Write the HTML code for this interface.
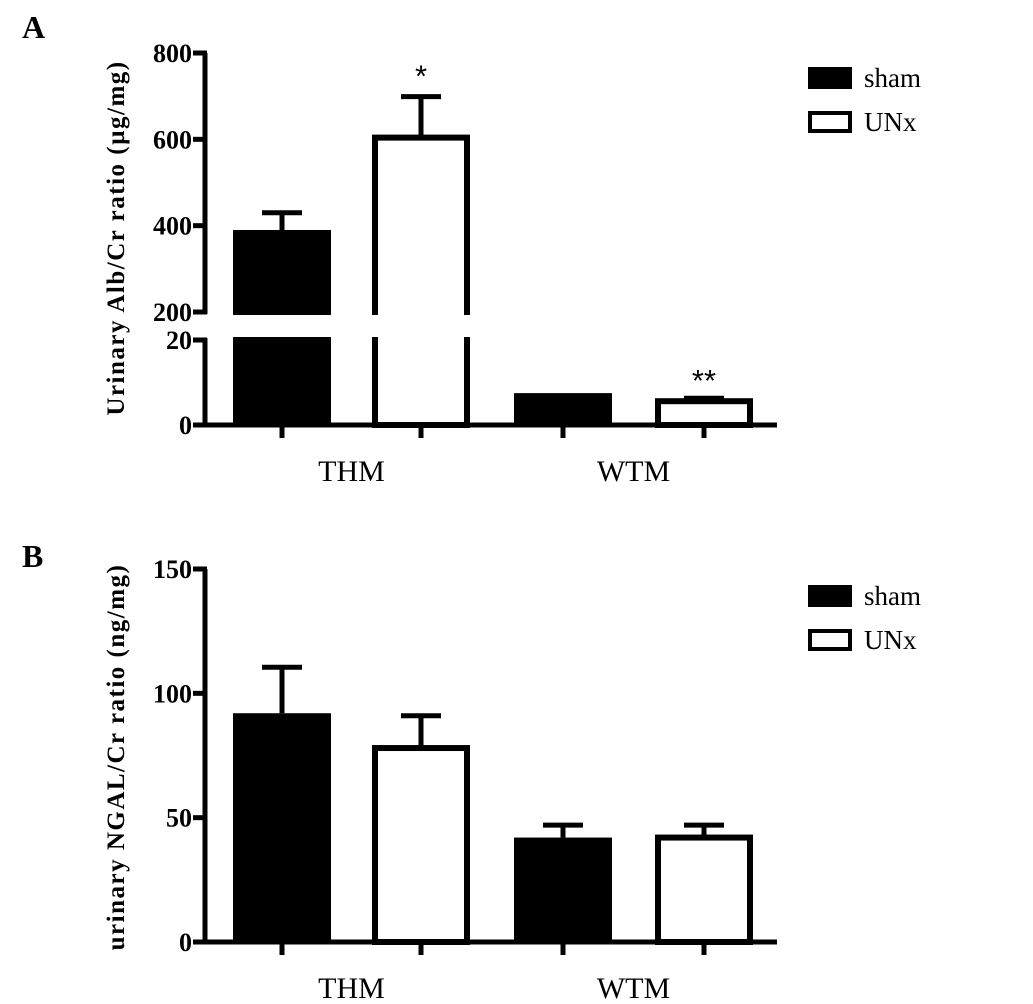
<!DOCTYPE html>
<html><head><meta charset="utf-8"><style>
body{margin:0;background:#fff;}
svg{display:block;font-family:"Liberation Serif",serif;}
</style></head><body>
<svg id="c" width="1033" height="1004" viewBox="0 0 1033 1004"></svg>
<script>
const groups=["THM","WTM"];
const seriesNames=["sham","UNx"];
const alb=[[390,604],[7.5,5.6]];
const albErr=[[430,699],[7.5,6.3]];
const albStars=[["","*"],["","**"]];
const ngal=[[92,78],[42,42]];
const ngalErr=[[110.5,91],[47,47]];
const albUpperTicks=[200,400,600,800];
const albLowerTicks=[0,20];
const ngalTicks=[0,50,100,150];

const svg=document.getElementById('c');
const NS="http://www.w3.org/2000/svg";
function mk(t,a,p){const e=document.createElementNS(NS,t);for(const k in a)e.setAttribute(k,a[k]);(p||svg).appendChild(e);return e;}
const barW=98, centers=[[282,421],[563,704]];

function yA(v){ if(v<=20) return 425-(v/20)*85; return 312-((v-200)/600)*259; }
function yB(v){ return 942-(v/150)*373; }

function panel(p){
  const g=mk('g',{});
  
  
  groups.forEach((gr,gi)=>{
    seriesNames.forEach((s,si)=>{
      const v=p.vals[gi][si], e=p.err[gi][si], cx=centers[gi][si];
      const yt=p.y(v), y0=p.y(0);
      const b=mk('rect',{x:cx-barW/2+(si?3:0),y:yt,width:barW-(si?6:0),height:y0-yt,fill:si?'#fff':'#000',stroke:'#000','stroke-width':si?6:0},g);
      
      
      const ye=p.y(e);
      if(e>v){
        const el=mk('path',{d:`M${cx} ${yt} V${ye} M${cx-20} ${ye} H${cx+20}`,stroke:'#000','stroke-width':5,fill:'none'},g);
        
        
      }
      if(p.stars && p.stars[gi][si]){
        const t=mk('text',{x:cx,y:ye-(p.stars[gi][si]=="*"?-10:-13)-20,'text-anchor':'middle','font-size':31,'font-family':'Liberation Sans,sans-serif'},g);
        t.textContent=p.stars[gi][si];
        
        
      }
    });
  });
  if(p.breakGap){
    const r=mk('rect',{x:206,y:p.breakGap[0],width:300,height:p.breakGap[1]-p.breakGap[0],fill:'#fff'},g);
    
    
  }
  const ax=mk('path',{d:p.axisPath,stroke:'#000','stroke-width':5,fill:'none'},g);
  
  
  const y0=p.y(0);
  const xa=mk('path',{d:`M203 ${y0} H777`+centers.flat().map(c=>` M${c} ${y0} V${y0+13}`).join(''),stroke:'#000','stroke-width':5,fill:'none'},g);
  
  
  p.ticks.forEach(v=>{
    const y=p.y(v);
    const tk=mk('path',{d:`M193 ${y} H207`,stroke:'#000','stroke-width':5},g);
    
    
    const t=mk('text',{x:192,y:y+9,'text-anchor':'end','font-size':26,'font-weight':'bold'},g);
    t.textContent=v;
    
    
  });
  groups.forEach((gr,gi)=>{
    const t=mk('text',{x:(centers[gi][0]+centers[gi][1])/2,y:y0+56,'text-anchor':'middle','font-size':30},g);
    t.textContent=gr;
    
    
  });
  const yt=mk('text',{x:0,y:0,transform:`translate(124 ${p.titleY}) rotate(-90)`,'text-anchor':'middle','font-size':25,'font-weight':'bold','letter-spacing':'1.5'},g);
  yt.textContent=p.title;
  
  
  const pl=mk('text',{x:22,y:p.letterY,'font-size':32,'font-weight':'bold'},g);
  pl.textContent=p.letter;
  
  
  seriesNames.forEach((s,si)=>{
    const ly=p.legY+si*44;
    const r=mk('rect',{x:810,y:ly,width:40,height:18,fill:si?'#fff':'#000',stroke:'#000','stroke-width':4},g);
    
    
    const t=mk('text',{x:864,y:ly+18,'font-size':27},g);
    t.textContent=s;
    
    
  });
}
panel({name:'panel-a',y:yA,vals:alb,err:albErr,stars:albStars,ticks:albUpperTicks.concat(albLowerTicks),
  axisPath:`M205 ${yA(800)} V${yA(200)+2} M205 ${yA(20)-2} V${yA(0)}`,breakGap:[yA(200)+3,yA(20)-3],
  title:'Urinary Alb/Cr ratio (µg/mg)',titleY:238,letter:'A',letterY:38,legY:69});
panel({name:'panel-b',y:yB,vals:ngal,err:ngalErr,ticks:ngalTicks,
  axisPath:`M205 ${yB(150)} V${yB(0)}`,
  title:'urinary NGAL/Cr ratio (ng/mg)',titleY:757,letter:'B',letterY:567,legY:587});
</script>
</body></html>
